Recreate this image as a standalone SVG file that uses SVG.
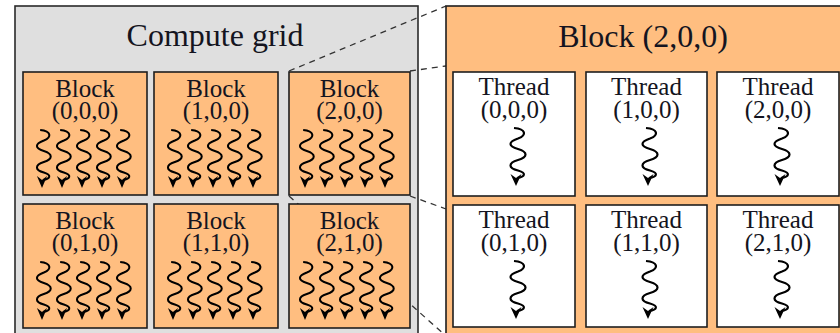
<svg xmlns="http://www.w3.org/2000/svg" xmlns:xlink="http://www.w3.org/1999/xlink" width="840" height="333" viewBox="0 0 840 333">
<style>
.lbl{font-family:"Liberation Serif","Times New Roman",serif;font-size:25px;fill:#141420;text-anchor:middle}
.hdr{font-family:"Liberation Serif","Times New Roman",serif;font-size:32px;fill:#141420;text-anchor:middle}
.blk{fill:#ffbe80;stroke:#1e1e1e;stroke-width:1.6}
.thr{fill:#ffffff;stroke:#1e1e1e;stroke-width:1.6}
.dash{fill:none;stroke:#333;stroke-width:1.3;stroke-dasharray:6 5}
.wave{fill:none;stroke:#000;stroke-width:2.2}
</style>
<defs>
<g id="sq">
<path class="wave" d="M-2,0 C10,1 11,7 2,10.5 C-8,14 -8,18 2,21 C12,24 12,29 2,32 C-8,35 -8,40 2,42.5 C11,45 9,49 1,50"/>
<path d="M0,58 L-5.5,46 L0,50 L5.5,46 Z" fill="#000"/>
</g>
<g id="sq5">
<use xlink:href="#sq" transform="translate(0,0) scale(0.92,1)"/>
<use xlink:href="#sq" transform="translate(20,0) scale(0.92,1)"/>
<use xlink:href="#sq" transform="translate(40,0) scale(0.92,1)"/>
<use xlink:href="#sq" transform="translate(60,0) scale(0.92,1)"/>
<use xlink:href="#sq" transform="translate(80,0) scale(0.92,1)"/>
</g>
</defs>

<g id="compute-grid">
<rect x="15" y="6" width="403" height="340" fill="#dfdfdf" stroke="#2a2a2a" stroke-width="1.6"/>
<text class="hdr" x="215" y="46">Compute grid</text>
</g>

<g id="connectors">
<line class="dash" x1="289" y1="71" x2="446" y2="6"/>
<line class="dash" x1="410" y1="71" x2="446" y2="66"/>
<line class="dash" x1="410" y1="196" x2="446" y2="209"/>
<line class="dash" x1="289" y1="196" x2="446" y2="336"/>
</g>

<g id="block-000">
<rect class="blk" x="23" y="72" width="124" height="123"/>
<text class="lbl" x="85" y="97">Block<tspan x="85" y="119">(0,0,0)</tspan></text>
<use xlink:href="#sq5" x="42" y="130"/>
</g>
<g id="block-100">
<rect class="blk" x="154" y="72" width="124" height="123"/>
<text class="lbl" x="216" y="97">Block<tspan x="216" y="119">(1,0,0)</tspan></text>
<use xlink:href="#sq5" x="173" y="130"/>
</g>
<g id="block-200">
<rect class="blk" x="289" y="72" width="121" height="123"/>
<text class="lbl" x="349.5" y="97">Block<tspan x="349.5" y="119">(2,0,0)</tspan></text>
<use xlink:href="#sq5" x="305" y="130"/>
</g>
<g id="block-010">
<rect class="blk" x="23" y="204" width="124" height="124"/>
<text class="lbl" x="85" y="229">Block<tspan x="85" y="251">(0,1,0)</tspan></text>
<use xlink:href="#sq5" x="42" y="262"/>
</g>
<g id="block-110">
<rect class="blk" x="154" y="204" width="124" height="124"/>
<text class="lbl" x="216" y="229">Block<tspan x="216" y="251">(1,1,0)</tspan></text>
<use xlink:href="#sq5" x="173" y="262"/>
</g>
<g id="block-210">
<rect class="blk" x="289" y="204" width="121" height="124"/>
<text class="lbl" x="349.5" y="229">Block<tspan x="349.5" y="251">(2,1,0)</tspan></text>
<use xlink:href="#sq5" x="305" y="262"/>
</g>

<g id="block-detail">
<rect class="blk" x="446" y="6" width="420" height="340"/>
<text class="hdr" x="643" y="47">Block (2,0,0)</text>
</g>

<g id="thread-000">
<rect class="thr" x="453" y="72" width="122" height="124"/>
<text class="lbl" x="514" y="95">Thread<tspan x="514" y="118">(0,0,0)</tspan></text>
<use xlink:href="#sq" x="516" y="128"/>
</g>
<g id="thread-100">
<rect class="thr" x="586" y="72" width="121" height="124"/>
<text class="lbl" x="646.5" y="95">Thread<tspan x="646.5" y="118">(1,0,0)</tspan></text>
<use xlink:href="#sq" x="648" y="128"/>
</g>
<g id="thread-200">
<rect class="thr" x="717" y="72" width="122" height="124"/>
<text class="lbl" x="778" y="95">Thread<tspan x="778" y="118">(2,0,0)</tspan></text>
<use xlink:href="#sq" x="780" y="128"/>
</g>
<g id="thread-010">
<rect class="thr" x="453" y="205" width="122" height="122"/>
<text class="lbl" x="514" y="228">Thread<tspan x="514" y="251">(0,1,0)</tspan></text>
<use xlink:href="#sq" x="516" y="261"/>
</g>
<g id="thread-110">
<rect class="thr" x="586" y="205" width="121" height="122"/>
<text class="lbl" x="646.5" y="228">Thread<tspan x="646.5" y="251">(1,1,0)</tspan></text>
<use xlink:href="#sq" x="648" y="261"/>
</g>
<g id="thread-210">
<rect class="thr" x="717" y="205" width="122" height="122"/>
<text class="lbl" x="778" y="228">Thread<tspan x="778" y="251">(2,1,0)</tspan></text>
<use xlink:href="#sq" x="780" y="261"/>
</g>
</svg>
